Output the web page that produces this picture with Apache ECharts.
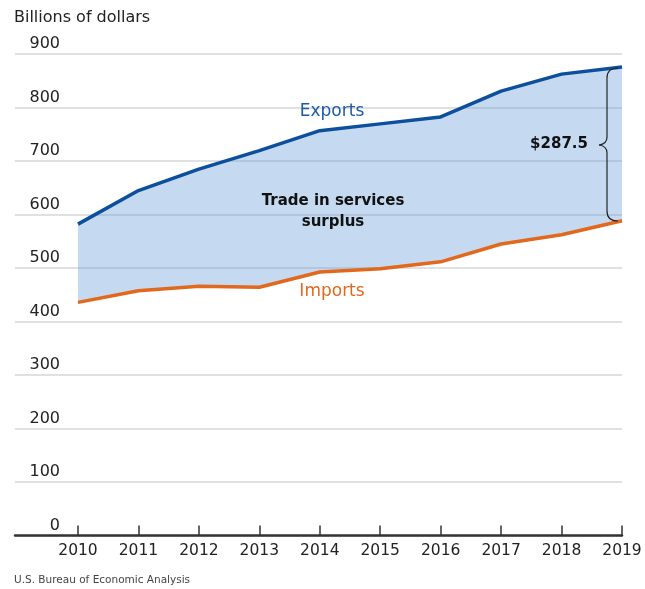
<!DOCTYPE html>
<html><head><meta charset="utf-8">
<script src="https://cdn.jsdelivr.net/npm/echarts@6/dist/echarts.min.js"></script>
<style>html,body{margin:0;padding:0;background:#fff}#c{width:645px;height:589px}</style>
</head><body><div id="c"></div>
<script>
const years = ['2010','2011','2012','2013','2014','2015','2016','2017','2018','2019'];
const exportsVals = [582.0, 644.7, 684.8, 719.4, 756.7, 769.4, 782.3, 830.6, 862.4, 875.8];
const importsVals = [435.8, 457.5, 466.1, 464.1, 492.4, 498.4, 511.5, 544.8, 562.1, 588.3];
const surplusVals = exportsVals.map((v, i) => +(v - importsVals[i]).toFixed(1));
const yTicks = [0, 100, 200, 300, 400, 500, 600, 700, 800, 900];

const FONT = '"DejaVu Sans", sans-serif';
const chart = echarts.init(document.getElementById('c'), null, {renderer: 'canvas'});
const gTop = 54, gBottom = 53.5;
const braceStyle = {stroke: '#222', lineWidth: 1.2, fill: null};
function curve(x1, y1, cx, cy, x2, y2) {
  return {type: 'bezierCurve', z: 100, shape: {x1: x1, y1: y1, cpx1: cx, cpy1: cy, x2: x2, y2: y2}, style: braceStyle};
}
function seg(x1, y1, x2, y2) {
  return {type: 'line', z: 100, shape: {x1: x1, y1: y1, x2: x2, y2: y2}, style: braceStyle};
}
chart.setOption({
  animation: false,
  backgroundColor: '#fff',
  grid: [
    {left: 15, right: 23, top: gTop, bottom: gBottom},
    {left: 78, right: 23, top: gTop, bottom: gBottom}
  ],
  xAxis: [
    {gridIndex: 0, type: 'value', min: 0, max: 1, show: true,
     axisLine: {show: true, lineStyle: {color: '#333', width: 2.5}},
     axisTick: {show: false}, axisLabel: {show: false}, splitLine: {show: false}},
    {gridIndex: 1, type: 'category', data: years, boundaryGap: false,
     axisLine: {show: false},
     axisTick: {show: true, inside: true, length: 10, alignWithLabel: true, lineStyle: {color: '#333', width: 1.5}},
     axisLabel: {margin: 7, color: '#222', fontFamily: FONT, fontSize: 15.5, interval: 0},
     splitLine: {show: false}}
  ],
  yAxis: [
    {gridIndex: 0, type: 'value', min: 0, max: 900, interval: 100,
     axisLine: {show: false}, axisTick: {show: false},
     axisLabel: {inside: true, margin: 45, align: 'right', verticalAlign: 'bottom', padding: [0, 0, 2, 0],
       color: '#222', fontFamily: FONT, fontSize: 16,
       formatter: v => yTicks.includes(v) ? String(v) : ''},
     splitLine: {show: true, lineStyle: {color: '#d6d6d6', width: 1.5}}},
    {gridIndex: 1, type: 'value', min: 0, max: 900, interval: 100, show: false,
     splitLine: {show: false}}
  ],
  series: [
    {type: 'line', xAxisIndex: 1, yAxisIndex: 1, data: importsVals, stack: 'band',
     symbol: 'none', lineStyle: {opacity: 0}, silent: true},
    {type: 'line', xAxisIndex: 1, yAxisIndex: 1, data: surplusVals, stack: 'band',
     symbol: 'none', lineStyle: {opacity: 0},
     areaStyle: {color: 'rgba(110,160,220,0.4)', opacity: 1}, silent: true},
    {type: 'line', xAxisIndex: 1, yAxisIndex: 1, data: importsVals, symbol: 'none',
     lineStyle: {color: '#e1681d', width: 3.5}, z: 5},
    {type: 'line', xAxisIndex: 1, yAxisIndex: 1, data: exportsVals, symbol: 'none',
     lineStyle: {color: '#0b4f9d', width: 3.5}, z: 5}
  ],
  graphic: [
    {type: 'text', z: 100, x: 14, y: 10, style: {text: 'Billions of dollars', fill: '#222', font: '16px ' + FONT}},
    {type: 'text', z: 100, x: 14, y: 575, style: {text: 'U.S. Bureau of Economic Analysis', fill: '#444', font: '10.5px ' + FONT}},
    {type: 'text', z: 100, x: 332, y: 112, style: {text: 'Exports', fill: '#1b5ca8', font: '17px ' + FONT, align: 'center', verticalAlign: 'middle'}},
    {type: 'text', z: 100, x: 332, y: 292, style: {text: 'Imports', fill: '#e1681d', font: '17px ' + FONT, align: 'center', verticalAlign: 'middle'}},
    {type: 'text', z: 100, x: 333, y: 212, style: {text: 'Trade in services\nsurplus', fill: '#111', font: 'bold 15px ' + FONT, align: 'center', verticalAlign: 'middle', lineHeight: 21}},
    {type: 'text', z: 100, x: 588, y: 144, style: {text: '$287.5', fill: '#111', font: 'bold 15px ' + FONT, align: 'right', verticalAlign: 'middle'}},
    curve(618, 68, 607, 68, 607, 78),
    seg(607, 78, 607, 137),
    curve(607, 137, 607, 144, 599, 145),
    curve(599, 145, 607, 146, 607, 153),
    seg(607, 153, 607, 211),
    curve(607, 211, 607, 221, 618, 221)
  ]
});
</script></body></html>
